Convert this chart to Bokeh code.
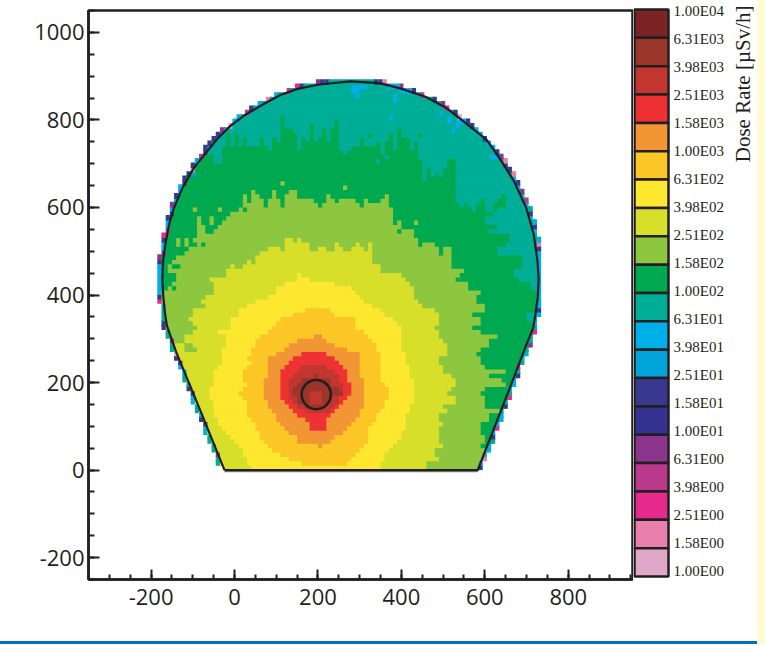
import numpy as np
from bokeh.core.properties import value
from bokeh.embed import file_html
from bokeh.layouts import row
from bokeh.models import ColumnDataSource, FixedTicker, Label, Range1d
from bokeh.plotting import figure
from bokeh.resources import INLINE

# ---------------- palette, top (highest dose) to bottom ----------------
LEVEL_LABELS = ["1.00E04","6.31E03","3.98E03","2.51E03","1.58E03","1.00E03","6.31E02",
                "3.98E02","2.51E02","1.58E02","1.00E02","6.31E01","3.98E01","2.51E01",
                "1.58E01","1.00E01","6.31E00","3.98E00","2.51E00","1.58E00","1.00E00"]
LEVEL_COLORS = ["#7a2426","#9a3629","#c1362f","#ee3233","#f19535","#fcc726","#fde72f",
                "#d7df2a","#8dc63f","#00a94f","#00ad96","#00aee8","#00a3da","#39388f",
                "#343391","#8c358c","#b93a8d","#e52a8b","#e97fac","#e0a8c8"]
E, D, R, A, O, W, Y, L, G, T, C = 1, 2, 3, 4, 5, 6, 7, 8, 9, 10, 11
FRINGE_CODE = {"T": 10, "C": 11, "B": 13, "M": 15, "P": 16, "H": 17, "K": 18, "I": 19}

# ---------------- cell grid: 10 cm x 10 cm ----------------
COL_X = list(range(-200, 760, 10))
ROW_Y = list(range(0, 890, 10))

ROW_LEFT = [-20,-30,-30,-30,-40,-40,-50,-50,-60,-60,
            -60,-70,-70,-80,-80,-90,-90,-90,-100,-100,
            -110,-110,-110,-120,-120,-130,-130,-140,-140,-140,
            -150,-150,-160,-160,-160,-160,-160,-160,-170,-170,
            -170,-170,-170,-170,-170,-170,-170,-170,-170,-160,
            -160,-160,-160,-160,-150,-150,-150,-150,-140,-140,
            -140,-130,-130,-120,-120,-110,-110,-100,-90,-90,
            -80,-70,-60,-60,-50,-40,-30,-20,0,10,
            20,40,50,70,90,110,140,170,230]
ROW_RIGHT = [580,580,590,590,600,600,610,610,610,620,
             620,630,630,630,640,640,650,650,650,660,
             660,670,670,670,680,680,690,690,700,700,
             700,710,710,710,710,720,720,720,720,720,
             720,720,720,720,720,720,720,720,720,720,
             720,720,720,710,710,710,710,700,700,700,
             690,690,680,680,670,670,660,660,650,640,
             640,630,620,610,600,590,580,570,560,550,
             530,520,500,490,470,440,390,360,330]

FRINGE_LEFT = ("-TTMTTTTCC" "BBCTTCCBBT" "TTCCBBITTM" "TTBBTTTTHB" "CCCCCCCBMM"
               "CCBHHCCBBC" "MCBCCBBBKB" "CPBBBBBMIC" "CPBCKCPBB")
FRINGE_RIGHT = ("BCKCCCTBCH" "CCCTBTHTCC" "CBTHTCCTMT" "THTCTCBCCC" "CCCCCCCCCC"
                "BKCTCBCCBT" "CPCMCBCKBB" "KMBCCBCCBB" "IBHMBPCCB")
EXTRA_FRINGE_X = [150, 200, 210, 340, 350, 370, 380, 390, 400, 410, 420]
EXTRA_FRINGE_Y = [870, 880, 880, 880, 880, 870, 870, 870, 860, 860, 860]
EXTRA_FRINGE_C = "HMBBKCCMCCB"
FRINGE_SHIFT = 5     # the fringe cells sit outside the drawn contour
CELL_OVERLAP = 3     # hides the seams between adjacent cells

# top edge of each region, per column from x=-200 to x=720
TOP_X = list(range(-200, 730, 10))
GREEN_TOP = [999]*14 + [720,700,700,740,770,740,770,740,760,740,740,740,760,740,730,760,750,810,
             780,780,770,730,760,750,790,750,760,780,750,780,800,730,720,730,740,740,760,740,740,
             740,750,720,750,770,730,780,760,760,730,750,710,670,690,670,680,670,690,710,710,610,
             600,610,600,590,610,620,590,590,610,620,630] + [610]*8
LGREEN_TOP = [410]*4 + [480,480,530,500,530,520,530,580,570,560,580,560,560,570,580,590,590,600,
              630,610,640,630,620,600,620,640,620,600,630,640,640,620,620,620,620,610,600,610,630,
              620,610,620,620,620,620,610,600,620,610,610,610,620,630,600,560,570,550,550,550,530,
              510,520,520,520,510,490,510,510,510] + [460]*20
YGREEN_TOP = [450]*14 + [440,440,440,440,460,470,460,460,470,480,470,490,500,500,510,510,510,500,
              530,530,520,530,520,520,500,500,510,510,500,500,520,510,500,500,510,520,510,500,520,
              470,470] + [460]*38

# right / left limits of each region, per row from y=0 upward
GREEN_HI = [999]*34 + [700,700] + [999]*5 + [710,710,680,670,670,690,690,690,630,630,650,660,660,
            610,630,600,600,620,630,650] + [999]*28
LGREEN_HI = [999]*5 + [590,600,600,590,590,590,610,610,630,600,600,600,590,600,650,640,610,650,600,
             590,590,580,590,610,610,630,590,570,590,590,570,600,600,580,580,590,560,560,530,540,
             550] + [520]*43
YGREEN_LO = [-999]*28 + [-140,-120,-120,-100,-90,-100,-110,-100,-100,-70,-80,-70,-50,-50,-50,-60,
             -40,-20] + [-20]*43
YGREEN_HI = [460,460,490,480,480,500,490,490,490,490,500,490,490,510,500,530,530,510,520,530,530,
             520,500,500,490,490,510,510,510,500,490,490,480,490,490,490,480,450,440,430,430,430,
             420,410,400,350] + [999]*43

# nested inner regions: first row y, then left and right edge per row
YELLOW_Y0 = 0
YELLOW_LO = [40,30,30,20,20,10,0,-10,-20,-30,-40,-40,-50,-50,-50,-50,-60,-60,-60,-50,-50,-50,-50,
             -40,-30,-30,-30,-30,-20,-20,-20,-40,-10,-10,-10,10,10,30,50,80,100,100,120,150,150]
YELLOW_HI = [350,350,360,360,370,380,390,400,400,410,410,410,410,420,420,430,430,430,430,430,430,
             420,420,420,410,410,410,400,400,400,400,400,400,390,380,360,350,330,310,300,290,280,
             240,180,160]
GOLD_Y0 = 10
GOLD_LO = [160,130,110,90,80,70,60,60,50,50,40,30,30,30,30,20,10,20,30,20,20,20,30,40,30,40,40,50,
           50,60,80,90,100,110,140,170]
GOLD_HI = [270,280,290,300,310,320,320,320,320,330,340,340,350,360,360,370,370,370,360,350,350,350,
           350,350,350,350,340,340,330,320,310,290,290,290,240,230]
ORANGE_Y0 = 50
ORANGE_LO = [200,150,150,130,120,110,100,100,90,80,80,70,70,70,70,70,80,80,80,80,80,100,120,130,150,190]
ORANGE_HI = [210,230,240,260,270,280,290,300,300,310,310,310,310,310,310,310,300,300,300,300,300,
             300,270,240,220,210]
RED_Y0 = 90
RED_LO = [180,180,170,150,140,130,120,110,110,110,110,110,110,110,120,130,140,160]
RED_HI = [220,220,220,230,240,250,260,270,280,280,280,270,270,270,260,250,240,220]
DRED_Y0 = 130
DRED_LO = [170,150,140,130,130,130,130,130,140,150,160]
DRED_HI = [230,240,250,250,260,260,260,250,250,240,220]
BROWN_Y0 = 140
BROWN_LO = [170,150,150,140,140,150,160,190]
BROWN_HI = [210,230,230,260,250,230,230,200]

# isolated cells
PATCH_X = [-120,-110,-120,-110,-100,-100,-40,110,260,430,
           20,390,-130,-110,-100,-80,-70,-70,-60,-60,-50,-80,
           -150,-140,-130,-120,-150,-140,-130,-160,-160,-150,-140,-160,-150,-160,-150,-170,-160,-150,
           -100,-100,-140,-130,340,360,450,
           320,440,
           280,290,300,310,280,290,290,380,380,370,490,510,510,520,530,540,530,610,620,
           180,190,200,180,190,200,180,190,200]
PATCH_Y = [280,280,270,270,270,590,590,650,640,560,
           590,540,490,510,510,510,540,550,540,550,550,560,
           500,500,500,500,490,490,490,480,470,460,460,440,440,430,430,420,420,410,
           680,670,630,630,700,710,660,
           760,760,
           870,870,870,870,860,860,850,850,840,800,810,800,790,770,790,790,780,710,710,
           150,150,150,160,160,160,170,170,170]
PATCH_LEVEL = [L]*10 + [G]*12 + [G]*18 + [T]*7 + [G]*2 + [C]*19 + [D]*9

# ---------------- detector outline and beam pipe ----------------
OUTLINE_X = [-24,-88,-140,-162,-167,-171,-173,-171,-165,-157,-146,-126,-99,-71,-41,-9,23,71,110,151,
             203,278,348,397,458,510,555,604,637,670,699,717,726,729,727,722,716,697,661,620,583,-24]
OUTLINE_Y = [0,150,270,330,360,400,437,480,520,560,597,642,688,722,757,787,810,837,857,871,
             881,888,884,872,853,826,792,755,710,660,600,540,480,437,395,360,325,280,190,90,0,0]
BASE_X, BASE_Y = [-24, 583], [-3, -3]
PIPE_X, PIPE_Y, PIPE_W, PIPE_H = [196], [172.5], [70], [66.7]

# ---------------- axes ----------------
X_TICKS = [-200, 0, 200, 400, 600, 800]
Y_TICKS = [-200, 0, 200, 400, 600, 800, 1000]
X_MINOR = list(range(-350, 951, 50))
Y_MINOR = list(range(-250, 1051, 50))
INK = "#231f20"
PAGE_PALE = "#fffbd5"
RULE_BLUE = "#0072bc"

# ---------------- build the cell map ----------------
grid = -np.ones((len(ROW_Y), len(COL_X)), dtype=int)
cx = np.array(COL_X)


def top_limit(tops):
    lookup = dict(zip(TOP_X, tops))
    return np.array([lookup.get(x, 0) for x in COL_X])


g_top, l_top, y_top = top_limit(GREEN_TOP), top_limit(LGREEN_TOP), top_limit(YGREEN_TOP)
for i, yy in enumerate(ROW_Y):
    grid[i, :] = T
    grid[i, (yy + 10 <= g_top) & (cx < GREEN_HI[i])] = G
    grid[i, (yy + 10 <= l_top) & (cx < LGREEN_HI[i])] = L
    grid[i, (yy + 10 <= y_top) & (cx >= YGREEN_LO[i]) & (cx < YGREEN_HI[i])] = Y

for level, y0, los, his in [(W, YELLOW_Y0, YELLOW_LO, YELLOW_HI), (O, GOLD_Y0, GOLD_LO, GOLD_HI),
                            (A, ORANGE_Y0, ORANGE_LO, ORANGE_HI), (R, RED_Y0, RED_LO, RED_HI),
                            (D, DRED_Y0, DRED_LO, DRED_HI), (E, BROWN_Y0, BROWN_LO, BROWN_HI)]:
    for k, (lo, hi) in enumerate(zip(los, his)):
        grid[y0 // 10 + k, (cx >= lo) & (cx < hi)] = level

for x, yy, level in zip(PATCH_X, PATCH_Y, PATCH_LEVEL):
    grid[yy // 10, COL_X.index(x)] = level

for i in range(len(ROW_Y)):
    grid[i, (cx < ROW_LEFT[i]) | (cx >= ROW_RIGHT[i])] = -1

runs = dict(left=[], right=[], bottom=[], top=[], color=[])


def add_cell(x0, x1, yy, level, over_x=CELL_OVERLAP):
    runs["left"].append(x0)
    runs["right"].append(x1 + over_x)
    runs["bottom"].append(yy)
    runs["top"].append(yy + 10 + CELL_OVERLAP)
    runs["color"].append(LEVEL_COLORS[level])


for i, yy in enumerate(ROW_Y):
    j = 0
    row_runs = []
    while j < len(COL_X):
        lev = grid[i, j]
        k = j
        while k + 1 < len(COL_X) and grid[i, k + 1] == lev:
            k += 1
        if lev >= 0:
            row_runs.append([COL_X[j], COL_X[k] + 10, lev])
        j = k + 1
    # the contour runs half a cell outside the last whole cells
    row_runs[0][0] -= FRINGE_SHIFT
    row_runs[-1][1] += FRINGE_SHIFT
    if FRINGE_LEFT[i] != "-":
        add_cell(ROW_LEFT[i] - 10 - FRINGE_SHIFT, ROW_LEFT[i] - FRINGE_SHIFT, yy,
                 FRINGE_CODE[FRINGE_LEFT[i]])
    for x0, x1, lev in row_runs:
        add_cell(x0, x1, yy, lev)
    add_cell(ROW_RIGHT[i] + FRINGE_SHIFT, ROW_RIGHT[i] + 10 + FRINGE_SHIFT, yy,
             FRINGE_CODE[FRINGE_RIGHT[i]], over_x=0)

for x, yy, code in zip(EXTRA_FRINGE_X, EXTRA_FRINGE_Y, EXTRA_FRINGE_C):
    sx = x - FRINGE_SHIFT if x < 278 else x + FRINGE_SHIFT
    add_cell(sx, sx + 10, yy, FRINGE_CODE[code], over_x=0)

# ---------------- main plot ----------------
p = figure(width=633, height=640, frame_width=544, frame_height=569,
           x_range=Range1d(-350, 954), y_range=Range1d(-250, 1050),
           min_border_left=88, min_border_right=1, min_border_top=10, min_border_bottom=61,
           toolbar_location=None, output_backend="svg")
p.grid.visible = False
p.outline_line_color = INK
p.outline_line_width = 2.5

p.quad(left="left", right="right", bottom="bottom", top="top", source=ColumnDataSource(runs),
       fill_color="color", line_color=None)
p.line(BASE_X, BASE_Y, line_color="#8a8a8a", line_width=1.5)
p.line(OUTLINE_X, OUTLINE_Y, line_color=INK, line_width=2.2, line_join="round")
p.ellipse(x=PIPE_X, y=PIPE_Y, width=PIPE_W, height=PIPE_H, fill_color=None,
          line_color=INK, line_width=2.5)

p.xaxis.ticker = FixedTicker(ticks=X_TICKS, minor_ticks=X_MINOR)
p.yaxis.ticker = FixedTicker(ticks=Y_TICKS, minor_ticks=Y_MINOR)
p.xaxis.major_label_overrides = {t: str(t) for t in X_TICKS}
p.yaxis.major_label_overrides = {t: str(t) for t in Y_TICKS}
for ax in (p.xaxis[0], p.yaxis[0]):
    ax.axis_line_color = INK
    ax.axis_line_width = 2.5
    ax.major_tick_line_color = INK
    ax.major_tick_line_width = 2
    ax.minor_tick_line_color = INK
    ax.minor_tick_line_width = 2
    ax.major_tick_out = 0
    ax.minor_tick_out = 0
    ax.major_label_text_font = "Open Sans"
    ax.major_label_text_font_size = "22px"
    ax.major_label_text_color = INK
p.xaxis.major_tick_in = 10
p.xaxis.minor_tick_in = 5
p.yaxis.major_tick_in = 11
p.yaxis.minor_tick_in = 6
p.xaxis.major_label_standoff = 9
p.yaxis.major_label_standoff = 4

p.add_layout(Label(x=-535, y=1039, text="X [cm]", angle=np.pi / 2, text_align="right",
                   text_baseline="middle", text_font="Liberation Serif",
                   text_font_size="20px", text_color=INK))
p.add_layout(Label(x=950, y=-355, text="Y [cm]", angle=0.0001,
                   text_align="right", text_baseline="bottom",
                   text_font="Liberation Serif", text_font_size="20px", text_color=INK))

# ---------------- colour scale ----------------
KEY_TOP, KEY_STEP, LABEL_STEP, LABEL_TOP = 9, 28.35, 28.0, 10.0
KEY_LIFT = 10   # the row layout lines frames up; lift the scale back to the page top
c = figure(width=124, height=640, frame_width=124, frame_height=630, x_range=Range1d(0, 124),
           y_range=Range1d((630 - KEY_TOP) / KEY_STEP, -KEY_TOP / KEY_STEP),
           x_axis_type=None, y_axis_type=None,
           min_border_left=0, min_border_right=0, min_border_top=KEY_LIFT, min_border_bottom=0,
           toolbar_location=None, output_backend="svg",
           styles={"transform": f"translateY(-{KEY_LIFT}px)"})
c.grid.visible = False
c.outline_line_color = None
c.quad(left=1, right=35, bottom=[i + 1 for i in range(20)], top=list(range(20)),
       fill_color=LEVEL_COLORS, line_color=INK, line_width=2.5)
label_y = [(LABEL_TOP + k * LABEL_STEP - KEY_TOP) / KEY_STEP for k in range(len(LEVEL_LABELS))]
c.text(x=[40] * len(LEVEL_LABELS), y=label_y, text=LEVEL_LABELS, text_baseline="middle",
       text_font=value("Liberation Serif"), text_font_size="15px", text_color=INK)
c.add_layout(Label(x=109, y=(5 - KEY_TOP) / KEY_STEP, text="Dose Rate [\u00b5Sv/h]", angle=np.pi / 2,
                   text_align="right", text_baseline="middle", text_font="Liberation Serif",
                   text_font_size="21px", text_color=INK))

page = row(p, c)
html = file_html(page, INLINE)
body_style = ("margin:0;background:"
              f"linear-gradient({RULE_BLUE},{RULE_BLUE}) 0 641px/757px 3px no-repeat fixed,"
              f"linear-gradient({PAGE_PALE},{PAGE_PALE}) 0 644px/765px 1px no-repeat fixed,"
              f"linear-gradient(90deg,#fff 757px,{PAGE_PALE} 757px) fixed")
html = html.replace("<body>", f'<body style="{body_style}">')
open("out.html", "w").write(html)
